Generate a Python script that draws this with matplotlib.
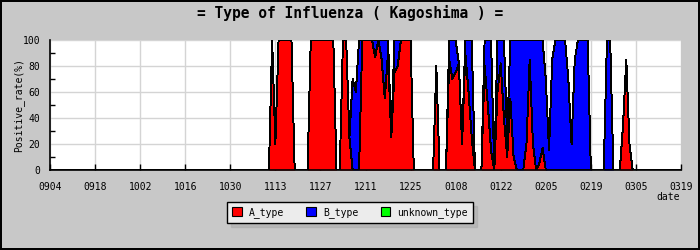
import matplotlib
matplotlib.use("Agg")
import matplotlib.pyplot as plt
import numpy as np
import pandas as pd
from matplotlib.patches import Patch

# ---- data ----
axis_start = "2014-09-04"
axis_end = "2015-03-19"
tick_labels = ["0904", "0918", "1002", "1016", "1030", "1113", "1127",
               "1211", "1225", "0108", "0122", "0205", "0219", "0305", "0319"]
series_start = "2014-11-09"   # first day of listed values (daily)

A_type = [
    0, 0, 0, 100, 20, 100, 100, 100, 100, 100,      # 1109-1118
    0, 0, 0, 0, 0, 100, 100, 100, 100, 100,          # 1119-1128
    100, 100, 100, 0, 0, 100, 100, 25, 0, 0,         # 1129-1208
    0, 100, 100, 100, 100, 87, 100, 85, 55, 90,      # 1209-1218
    25, 75, 80, 100, 100, 100, 100, 0, 0, 0,         # 1219-1228
    0, 0, 0, 0, 80, 0, 0, 0, 85, 70,                 # 1229-0107
    75, 82, 20, 90, 60, 25, 0, 0, 0, 80,             # 0108-0117
    50, 15, 0, 60, 82, 40, 10, 55, 10, 0,            # 0118-0127
    0, 0, 20, 85, 20, 0, 5, 17, 0, 0,                # 0128-0206
    0, 0, 0, 0, 0, 0, 0, 0, 0, 0,                    # 0207-0216
    0, 0, 0, 0, 0, 0, 0, 0, 0, 0,                    # 0217-0226
    0, 0, 35, 85, 20, 0,                             # 0227-0304
]
B_type = [
    0, 0, 0, 0, 0, 0, 0, 0, 0, 0,
    0, 0, 0, 0, 0, 0, 0, 0, 0, 0,
    0, 0, 0, 0, 0, 0, 0, 0, 70, 60,
    100, 0, 0, 0, 0, 13, 0, 15, 45, 10,
    0, 25, 20, 0, 0, 0, 0, 0, 0, 0,
    0, 0, 0, 0, 0, 0, 0, 0, 15, 30,
    25, 0, 0, 10, 40, 75, 0, 0, 0, 20,
    50, 85, 0, 40, 18, 60, 15, 45, 90, 100,
    100, 100, 80, 15, 80, 100, 95, 83, 70, 15,
    85, 100, 100, 100, 100, 70, 20, 85, 100, 100,
    100, 100, 0, 0, 0, 0, 0, 100, 100, 0,
    0, 0, 0, 0, 0, 0,
]
unknown_type = [0] * len(A_type)

# ---- build full daily series (days without values are 0) ----
full_days = pd.date_range(axis_start, axis_end, freq="D")
idx = pd.date_range(series_start, periods=len(A_type), freq="D")
df = pd.DataFrame({"A": A_type, "B": B_type, "U": unknown_type}, index=idx)
df = df.reindex(full_days, fill_value=0)
x = (df.index - full_days[0]).days.values.astype(float)
a = df["A"].values.astype(float)
b = df["B"].values.astype(float)
u = df["U"].values.astype(float)

BG = "#c8c8c8"
plt.rcParams["font.family"] = ["DejaVu Sans Mono"]

fig = plt.figure(figsize=(7, 2.5), dpi=100, facecolor=BG,
                 edgecolor="black", linewidth=1.5)
ax = fig.add_axes([50 / 700, 80 / 250, 631 / 700, 130 / 250])
ax.set_facecolor("white")

c1 = a
c2 = a + b
c3 = a + b + u
ax.fill_between(x, 0, c1, color="#ff0000", lw=0, antialiased=False, zorder=2)
ax.fill_between(x, c1, c2, color="#0000ff", lw=0, antialiased=False, zorder=2)
ax.fill_between(x, c2, c3, color="#00ff00", lw=0, antialiased=False, zorder=2)
for c in (c1, c2, c3):
    ax.plot(x, c, color="black", lw=0.7, antialiased=False, zorder=3)

ax.set_xlim(0, len(full_days) - 1)
ax.set_ylim(0, 100)
ax.set_xticks(np.arange(0, len(full_days), 14))
ax.set_xticklabels(tick_labels, fontsize=7)
ax.set_yticks(np.arange(0, 101, 20))
ax.set_yticklabels([str(v) for v in range(0, 101, 20)], fontsize=7)
ax.set_yticks(np.arange(10, 100, 20), minor=True)
ax.tick_params(axis="x", direction="in", length=4, width=1, pad=9, colors="black")
ax.tick_params(axis="y", which="major", direction="in", length=0, pad=7)
ax.tick_params(axis="y", which="minor", direction="in", length=3.5, width=1)
ax.set_axisbelow(True)
ax.grid(True, color="#d4d4d4", lw=1)
for s in ("top", "right"):
    ax.spines[s].set_visible(False)
for s in ("left", "bottom"):
    ax.spines[s].set_linewidth(1.2)
    ax.spines[s].set_zorder(5)

ax.set_ylabel("Positive_rate(%)", fontsize=7, labelpad=4)
ax.yaxis.set_label_coords(-0.041, 0.5)
fig.text(680 / 700, 1 - 197 / 250, "date", fontsize=7, ha="right", va="center")
fig.text(0.5, 1 - 13 / 250, "= Type of Influenza ( Kagoshima ) =",
         fontsize=10.5, fontweight="bold", ha="center", va="center")

handles = [Patch(facecolor="#ff0000", edgecolor="black", lw=0.8, label="A_type"),
           Patch(facecolor="#0000ff", edgecolor="black", lw=0.8, label="B_type"),
           Patch(facecolor="#00ff00", edgecolor="black", lw=0.8, label="unknown_type")]
leg = fig.legend(handles=handles, loc="center", bbox_to_anchor=(350 / 700, 1 - 212.5 / 250),
                 ncol=3, fontsize=7, frameon=True, fancybox=False,
                 shadow={"color": "#a8a8a8", "ox": 3, "oy": -3},
                 handlelength=1.0, handleheight=1.0, handletextpad=0.7,
                 columnspacing=2.3, borderpad=0.55, borderaxespad=0)
leg.get_frame().set_facecolor("#ececec")
leg.get_frame().set_edgecolor("black")
leg.get_frame().set_linewidth(1)

fig.savefig("out.png", dpi=100, facecolor=fig.get_facecolor(),
            edgecolor=fig.get_edgecolor())
